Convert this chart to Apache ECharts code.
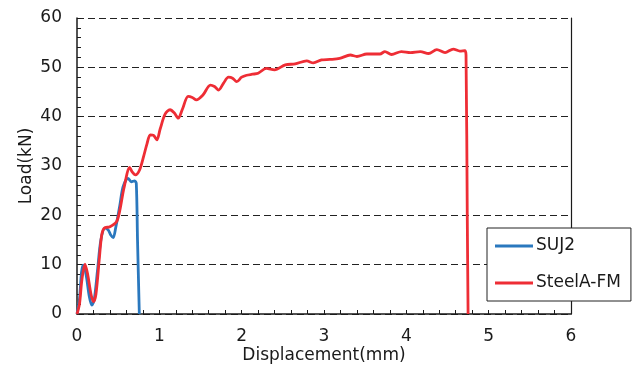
<!DOCTYPE html>
<html><head><meta charset="utf-8">
<script src="https://cdn.jsdelivr.net/npm/echarts@6/dist/echarts.min.js"></script>
<style>html,body{margin:0;padding:0;background:#fff}#c{width:637px;height:369px}</style>
</head><body><div id="c"></div>
<script>
const xTicks = [0,1,2,3,4,5,6];
const yTicks = [0,10,20,30,40,50,60];
const seriesNames = ['SUJ2','SteelA-FM'];
const suj2 = [[0,0],[0.03,3],[0.055,8.5],[0.077,9.9],[0.11,8],[0.15,3.5],[0.18,1.8],[0.21,3],[0.25,9],[0.29,15],[0.34,17.4],[0.38,17],[0.41,16],[0.44,15.5],[0.47,17.5],[0.52,22],[0.56,25.8],[0.62,27.5],[0.66,26.8],[0.70,27],[0.72,26.5],[0.735,15],[0.757,0]];
const steelA = [[0,0],[0.03,2],[0.06,7],[0.097,10.1],[0.13,8],[0.17,4],[0.2,2.5],[0.23,4],[0.27,11],[0.30,16],[0.33,17.4],[0.4,17.7],[0.48,18.7],[0.52,21],[0.57,25.5],[0.64,29.7],[0.67,28.8],[0.71,28.2],[0.76,29.2],[0.81,32],[0.85,34.5],[0.89,36.3],[0.93,36.2],[0.97,35.3],[1.01,37.5],[1.07,40.5],[1.13,41.4],[1.18,40.8],[1.23,39.7],[1.28,41.5],[1.35,44.1],[1.40,43.9],[1.45,43.4],[1.53,44.4],[1.62,46.4],[1.67,46.1],[1.72,45.4],[1.78,46.8],[1.84,48.0],[1.89,47.8],[1.94,47.1],[2.0,48.0],[2.06,48.4],[2.13,48.6],[2.20,48.8],[2.30,49.8],[2.40,49.5],[2.53,50.5],[2.65,50.7],[2.79,51.3],[2.87,50.9],[2.97,51.5],[3.07,51.6],[3.19,51.8],[3.32,52.5],[3.40,52.2],[3.52,52.7],[3.68,52.7],[3.74,53.2],[3.82,52.6],[3.94,53.2],[4.05,53.0],[4.17,53.2],[4.27,52.8],[4.37,53.6],[4.47,53.0],[4.57,53.7],[4.65,53.3],[4.71,53.4],[4.725,52.5],[4.74,20],[4.75,0]];

const FONT = '"DejaVu Sans", sans-serif';
const TXT = '#1a1a1a';
const chart = echarts.init(document.getElementById('c'), null, {renderer:'canvas'});
chart.setOption({
  animation:false,
  backgroundColor:'#fff',
  grid:{left:77,right:66,top:18,bottom:55,containLabel:false,outerBoundsMode:'none'},
  legend:{
    orient:'vertical', left:487, top:228,
    data:seriesNames,
    backgroundColor:'#fff', borderColor:'#222', borderWidth:1, borderRadius:0,
    padding:[8,10,8,8], itemGap:17, itemWidth:38, itemHeight:3, icon:'rect',
    textStyle:{fontFamily:FONT,fontSize:17,color:TXT,lineHeight:20,padding:[0,0,0,-2]},
    z:10
  },
  xAxis:{
    type:'value', min:xTicks[0], max:xTicks[xTicks.length-1], interval:1,
    name:'Displacement(mm)', nameLocation:'middle', nameGap:33, nameMoveOverlap:false,
    nameTextStyle:{fontFamily:FONT,fontSize:17,color:TXT},
    axisLine:{show:true,onZero:false,lineStyle:{color:TXT,width:1.5}},
    axisTick:{show:true,inside:true,length:4,lineStyle:{color:TXT}},
    minorTick:{show:true,splitNumber:5,length:4,lineStyle:{color:TXT}},
    axisLabel:{fontFamily:FONT,fontSize:17,color:TXT,margin:14},
    splitLine:{show:false}
  },
  yAxis:[{
    type:'value', min:yTicks[0], max:yTicks[yTicks.length-1], interval:10,
    name:'Load(kN)', nameLocation:'middle', nameGap:42, nameMoveOverlap:false,
    nameTextStyle:{fontFamily:FONT,fontSize:17,color:TXT},
    axisLine:{show:true,onZero:false,lineStyle:{color:TXT,width:1.5}},
    axisTick:{show:true,inside:true,length:4,lineStyle:{color:TXT}},
    minorTick:{show:true,splitNumber:5,length:4,lineStyle:{color:TXT}},
    axisLabel:{fontFamily:FONT,fontSize:17,color:TXT,margin:15},
    splitLine:{show:true,lineStyle:{color:'#222',width:1.2,type:[7,4]}}
  },{
    type:'value', min:0, max:60, position:'right',
    axisLine:{show:true,onZero:false,lineStyle:{color:TXT,width:1.2}},
    axisTick:{show:false}, axisLabel:{show:false}, splitLine:{show:false}
  }],
  series:[
    {name:seriesNames[0],type:'line',data:suj2,smooth:0.3,showSymbol:false,
     lineStyle:{color:'#2a78be',width:2.8},itemStyle:{color:'#2a78be'}},
    {name:seriesNames[1],type:'line',data:steelA,smooth:0.3,showSymbol:false,
     lineStyle:{color:'#ee2d35',width:2.8},itemStyle:{color:'#ee2d35'}}
  ]
});
</script></body></html>
